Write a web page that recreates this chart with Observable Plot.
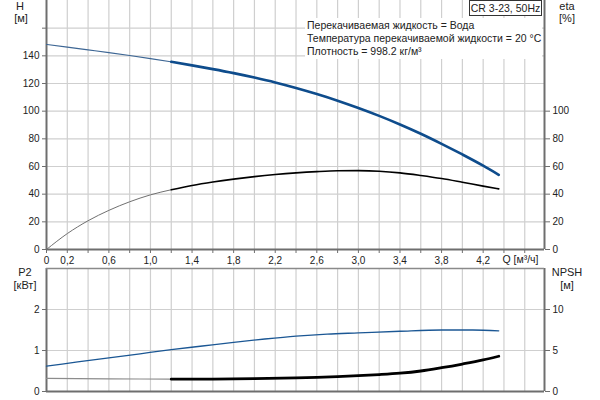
<!DOCTYPE html>
<html><head><meta charset="utf-8">
<script src="https://cdn.jsdelivr.net/npm/d3@7"></script>
<script src="https://cdn.jsdelivr.net/npm/@observablehq/plot@0.6"></script>
<style>
html,body{margin:0;padding:0;background:#fff;}
#wrap{position:relative;width:600px;height:400px;overflow:hidden;font-family:"Liberation Sans",Arial,sans-serif;color:#222;}
#top{position:absolute;left:0;top:0;}
#bot{position:absolute;left:0;top:262px;}
.lbl{position:absolute;width:60px;text-align:center;font-size:11px;line-height:12px;white-space:nowrap;}
#info{position:absolute;left:305px;top:18px;width:237px;height:40px;background:#fff;font-size:10.5px;line-height:13px;padding-left:2px;padding-top:1px;white-space:nowrap;box-sizing:border-box;height:41px;}
#title{position:absolute;left:469px;top:0px;width:71px;height:14px;border:1px solid #333;background:#fff;font-size:10.5px;line-height:14px;text-align:center;white-space:nowrap;}
</style></head>
<body>
<div id="wrap">
  <div id="top"></div>
  <div id="bot"></div>
  <div class="lbl" style="left:-10px;top:0px">H</div>
  <div class="lbl" style="left:-9px;top:12px">[м]</div>
  <div class="lbl" style="left:537px;top:0px">eta</div>
  <div class="lbl" style="left:537px;top:12px">[%]</div>
  <div class="lbl" style="left:-5px;top:266px">P2</div>
  <div class="lbl" style="left:-5px;top:279px">[кВт]</div>
  <div class="lbl" style="left:537px;top:266px">NPSH</div>
  <div class="lbl" style="left:537px;top:279px">[м]</div>
  <div id="info">Перекачиваемая жидкость = Вода<br>Температура перекачиваемой жидкости = 20 °C<br>Плотность = 998.2 кг/м³</div>
  <div id="title">CR 3-23, 50Hz</div>
</div>
<script>
// ---- data ----
const gridQ = [0,0.2,0.4,0.6,0.8,1.0,1.2,1.4,1.6,1.8,2.0,2.2,2.4,2.6,2.8,3.0,3.2,3.4,3.6,3.8,4.0,4.2,4.4,4.6];
const xTickValues = [0,0.2,0.6,1.0,1.4,1.8,2.2,2.6,3.0,3.4,3.8,4.2];
const xTickLabels = ["0","0,2","0,6","1,0","1,4","1,8","2,2","2,6","3,0","3,4","3,8","4,2"];
const hTicks = [0,20,40,60,80,100,120,140,160];
const hTickLabels = ["0","20","40","60","80","100","120","140",""];
const etaTicks = [0,20,40,60,80,100];
const p2Ticks = [0,1,2];
const npshTicks = [0,5,10];

const hQ = [0,0.2,0.4,0.6,0.8,1.0,1.2,1.4,1.6,1.8,2.0,2.2,2.4,2.6,2.8,3.0,3.2,3.4,3.6,3.8,4.0,4.2,4.35];
const hM = [148.2,146.3,144.3,142.3,140.2,138.0,135.7,133.1,130.4,127.5,124.3,120.8,116.8,112.4,107.6,102.3,96.6,90.4,83.7,76.4,68.7,60.6,54.0];

const etaQ = [0,0.2,0.4,0.6,0.8,1.0,1.2,1.4,1.6,1.8,2.0,2.2,2.4,2.6,2.8,3.0,3.2,3.4,3.6,3.8,4.0,4.2,4.35];
const etaPct = [0,11.5,20.8,28.3,34.5,39.5,43.2,46.3,48.8,50.9,52.7,54.2,55.4,56.3,56.9,57.0,56.6,55.4,53.5,51.3,48.6,45.8,43.8];

const p2Q = [0,0.3,0.6,0.9,1.2,1.5,1.8,2.1,2.4,2.7,3.0,3.4,3.8,4.1,4.35];
const p2KW = [0.62,0.72,0.82,0.92,1.02,1.11,1.2,1.28,1.35,1.40,1.43,1.47,1.50,1.50,1.48];

const npshQ = [0,0.6,1.2,1.6,2.0,2.4,2.6,2.8,3.0,3.2,3.4,3.6,3.8,4.0,4.2,4.35];
const npshM = [1.6,1.55,1.5,1.52,1.57,1.66,1.73,1.82,1.93,2.06,2.23,2.5,2.9,3.35,3.85,4.3];

const qSplit = 1.2;

// ---- helpers ----
const rows = (qs, vs) => qs.map((q,i)=>({q, v:vs[i]}));
const H = rows(hQ,hM), ETA = rows(etaQ,etaPct), P2 = rows(p2Q,p2KW), NPSH = rows(npshQ,npshM.map(v=>v/5));
const thin = a => a.filter(d=>d.q<=qSplit+1e-9), thick = a => a.filter(d=>d.q>=qSplit-1e-9);
const xDomain = [0,4.79];
const gridStyle = {stroke:"#cfcfcf", strokeOpacity:1, strokeWidth:1.2};
const axisColor = "#6e6e6e";
const style = {fontFamily:"Liberation Sans, Arial, sans-serif", fontSize:"10px", color:"#222", background:"transparent", overflow:"visible"};
const xLabel = q => { const i = xTickValues.findIndex(v=>Math.abs(v-q)<1e-6); return i<0 ? "" : xTickLabels[i]; };

const topPlot = Plot.plot({
  width:600, height:262, marginLeft:46, marginRight:56, marginTop:0, marginBottom:13,
  style,
  x:{domain:xDomain}, y:{domain:[0,180]},
  marks:[
    Plot.gridX(gridQ.filter(q=>q>0), gridStyle),
    Plot.gridY(hTicks.filter(v=>v>0), gridStyle),
    Plot.axisX(gridQ, {tickSize:4, tickPadding:3, tickFormat:xLabel, stroke:axisColor, label:null}),
    Plot.axisY(hTicks, {anchor:"left", tickSize:4, tickPadding:3, tickFormat:d=>hTickLabels[hTicks.indexOf(d)], stroke:axisColor, label:null}),
    Plot.axisY(etaTicks, {anchor:"right", tickSize:5, tickPadding:3, stroke:axisColor, label:null}),
    Plot.ruleX([0], {stroke:axisColor, strokeWidth:2}),
    Plot.ruleX([xDomain[1]], {stroke:axisColor, strokeWidth:2}),
    Plot.ruleY([0], {stroke:axisColor, strokeWidth:2}),
    Plot.line(thin(ETA), {x:"q", y:"v", stroke:"#707070", strokeWidth:1, curve:"monotone-x"}),
    Plot.line(thick(ETA), {x:"q", y:"v", stroke:"#000", strokeWidth:1.6, curve:"monotone-x"}),
    Plot.line(thin(H), {x:"q", y:"v", stroke:"#3d6694", strokeWidth:1.1, curve:"monotone-x"}),
    Plot.line(thick(H), {x:"q", y:"v", stroke:"#0e4c8c", strokeWidth:2.6, curve:"monotone-x"}),
    Plot.text(["Q [м³/ч]"], {frameAnchor:"bottom-right", dx:-6, dy:13.5, fontSize:10.5, fill:"#222", textAnchor:"end"})
  ]
});
document.getElementById("top").appendChild(topPlot);

const botPlot = Plot.plot({
  width:600, height:138, marginLeft:46, marginRight:56, marginTop:6, marginBottom:9,
  style,
  x:{domain:xDomain, axis:null}, y:{domain:[0,3]},
  marks:[
    Plot.gridX(gridQ.filter(q=>q>0), gridStyle),
    Plot.gridY(p2Ticks.filter(v=>v>0), gridStyle),
    Plot.axisY(p2Ticks, {anchor:"left", tickSize:4, tickPadding:3, stroke:axisColor, label:null}),
    Plot.axisY(npshTicks.map(v=>v/5), {anchor:"right", tickSize:5, tickPadding:3, tickFormat:d=>String(Math.round(d*5)), stroke:axisColor, label:null}),
    Plot.ruleX([0], {stroke:axisColor, strokeWidth:2}),
    Plot.ruleX([xDomain[1]], {stroke:axisColor, strokeWidth:2}),
    Plot.ruleY([0], {stroke:axisColor, strokeWidth:2}),
    Plot.ruleY([3], {stroke:"#8a8a8a", strokeWidth:1.5}),
    Plot.line(thin(NPSH), {x:"q", y:"v", stroke:"#8c8c8c", strokeWidth:1.2, curve:"monotone-x"}),
    Plot.line(thick(NPSH), {x:"q", y:"v", stroke:"#000", strokeWidth:2.8, curve:"monotone-x"}),
    Plot.line(P2, {x:"q", y:"v", stroke:"#1b5794", strokeWidth:1.3, curve:"monotone-x"})
  ]
});
document.getElementById("bot").appendChild(botPlot);
</script>
</body></html>
